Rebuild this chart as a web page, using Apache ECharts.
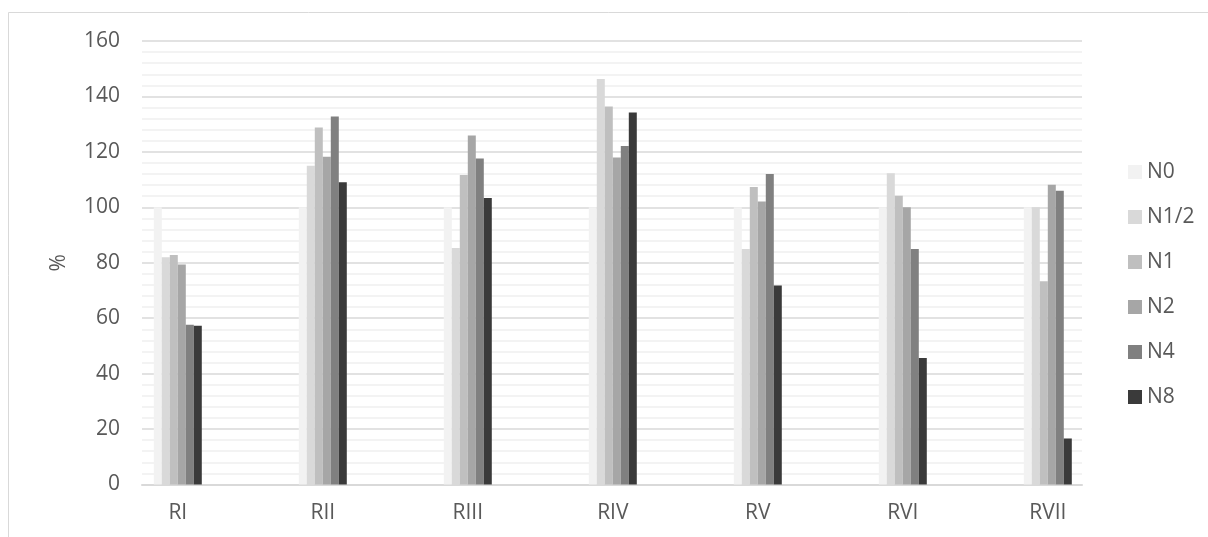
<!DOCTYPE html>
<html>
<head>
<meta charset="utf-8">
<script src="https://cdn.jsdelivr.net/npm/echarts@6/dist/echarts.min.js"></script>
<style>
html,body{margin:0;padding:0;background:#fff;}
#chart{width:1208px;height:537px;}
</style>
</head>
<body>
<div id="chart"></div>
<script>
const categories = ['RI','RII','RIII','RIV','RV','RVI','RVII'];
const seriesNames = ['N0','N1/2','N1','N2','N4','N8'];
const N0   = [100, 100, 100, 100, 100, 100, 100];
const N1_2 = [82, 115, 85.3, 146.3, 85, 112.3, 100];
const N1   = [82.8, 128.8, 111.7, 136.4, 107.3, 104.2, 73.3];
const N2   = [79.4, 118.2, 125.9, 118, 102.1, 100, 108.1];
const N4   = [57.6, 132.8, 117.6, 122.1, 112, 85, 106];
const N8   = [57.3, 109, 103.4, 134.2, 71.8, 45.6, 16.6];
const yTicks = [0, 20, 40, 60, 80, 100, 120, 140, 160];

const seriesData = [N0, N1_2, N1, N2, N4, N8];
const colors = ['#f2f2f2','#d9d9d9','#bfbfbf','#a6a6a6','#808080','#3a3a3a'];
const font = '"Open Sans", "Liberation Sans", sans-serif';
const textColor = '#595959';

const chart = echarts.init(document.getElementById('chart'), null, {renderer:'canvas'});
const option = {
  backgroundColor: '#ffffff',
  animation: false,
  textStyle: {fontFamily: font},
  graphic: [{
    type: 'rect', silent: true, z: -10,
    shape: {x: 8.5, y: 12.5, width: 1300, height: 700},
    style: {fill: 'none', stroke: '#d9d9d9', lineWidth: 1}
  }],
  grid: [
    {left: 142, width: 940, top: 41, height: 443.5},
    {left: 105.3, width: 1015, top: 41, height: 443.5}
  ],
  xAxis: [
    {type: 'category', gridIndex: 0, data: categories,
     axisLine: {show: true, lineStyle: {color: '#d9d9d9', width: 2}},
     axisTick: {show: false}, axisLabel: {show: false}, splitLine: {show: false}},
    {type: 'category', gridIndex: 1, data: categories,
     axisLine: {show: false}, axisTick: {show: false},
     axisLabel: {color: textColor, fontSize: 21, fontFamily: font, margin: 18},
     splitLine: {show: false}}
  ],
  yAxis: [
    {type: 'value', gridIndex: 0, min: yTicks[0], max: yTicks[yTicks.length-1], interval: 20,
     name: '%', nameLocation: 'middle', nameRotate: 90, nameGap: 72,
     nameTextStyle: {color: textColor, fontSize: 21, fontFamily: font},
     axisLine: {show: false}, axisTick: {show: false},
     axisLabel: {color: textColor, fontSize: 21, fontFamily: font, margin: 22},
     splitLine: {show: true, lineStyle: {color: '#d9d9d9', width: 1.5}},
     minorTick: {show: false, splitNumber: 5},
     minorSplitLine: {show: true, lineStyle: {color: '#f0f0f0', width: 1.5}}},
    {type: 'value', gridIndex: 1, min: 0, max: 160, show: false,
     splitLine: {show: false}}
  ],
  legend: {
    orient: 'vertical', left: 1123, top: 156.5,
    icon: 'rect', itemWidth: 14, itemHeight: 14, itemGap: 24,
    textStyle: {color: textColor, fontSize: 21, fontFamily: font, lineHeight: 21},
    data: seriesNames
  },
  series: seriesNames.map((n, i) => ({
    name: n, type: 'bar', xAxisIndex: 1, yAxisIndex: 1,
    data: seriesData[i], barWidth: 8, barGap: '0%',
    itemStyle: {color: colors[i]}
  }))
};
chart.setOption(option);
</script>
</body>
</html>
